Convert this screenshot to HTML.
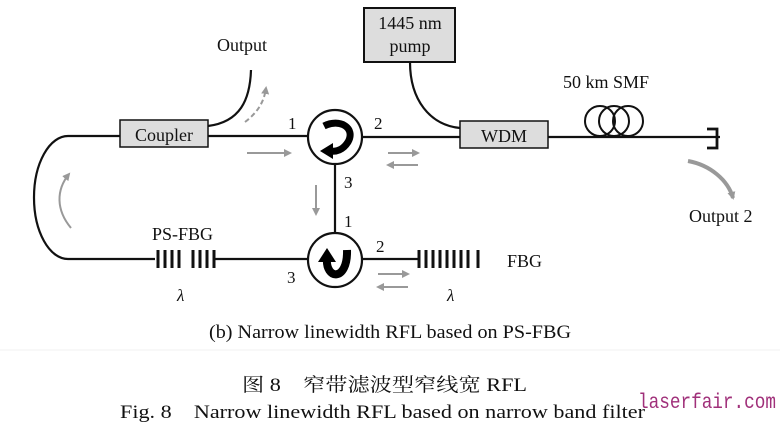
<!DOCTYPE html>
<html><head><meta charset="utf-8"><style>
body{margin:0;background:#fff;width:780px;height:433px;overflow:hidden}
svg{display:block}
text{font-family:"Liberation Serif","Noto Serif CJK SC",serif;fill:#111}
</style></head><body>
<svg width="780" height="433" viewBox="0 0 780 433">
<defs>
<marker id="ga" markerWidth="8" markerHeight="8" refX="6" refY="4" orient="auto" markerUnits="userSpaceOnUse"><path d="M0,0 L8,4 L0,8 Z" fill="#999"/></marker>
</defs>
<g stroke="#111" stroke-width="2.2" fill="none">
<path d="M120,136 L68,136 A34,61.5 0 0 0 68,259 L155,259"/>
<line x1="208" y1="136" x2="308" y2="136"/>
<path d="M208,126 C240,122 250,100 251,70"/>
<line x1="362" y1="137" x2="460" y2="137"/>
<line x1="548" y1="137" x2="720" y2="137"/>
<path d="M707,129 L717,129 L717,148 L707,148" stroke-width="2.8"/>
<path d="M410,62 C410,100 430,125 460,128"/>
<line x1="335" y1="164" x2="335" y2="233"/>
<line x1="215" y1="259" x2="308" y2="259"/>
<line x1="362" y1="259" x2="418" y2="259"/>
<circle cx="335" cy="137" r="27"/>
<circle cx="335" cy="260" r="27"/>
<circle cx="600" cy="121" r="15" stroke-width="2"/>
<circle cx="614" cy="121" r="15" stroke-width="2"/>
<circle cx="628" cy="121" r="15" stroke-width="2"/>
</g>
<path d="M324,126 C340,118 356,128 348,142 C343,150 336,152 330,151" stroke="#000" stroke-width="7" fill="none"/>
<path d="M320,151 L333,143 L333,159 Z" fill="#000"/>
<path d="M327,258 C325,280 348,282 347,250" stroke="#000" stroke-width="8" fill="none"/>
<path d="M318,262 L327,248 L336,262 Z" fill="#000"/>
<rect x="120" y="120" width="88" height="27" fill="#ddd" stroke="#111" stroke-width="1.5"/>
<text x="164" y="141" font-size="18" text-anchor="middle">Coupler</text>
<rect x="460" y="121" width="88" height="27" fill="#ddd" stroke="#111" stroke-width="1.5"/>
<text x="504" y="142" font-size="18" text-anchor="middle">WDM</text>
<rect x="364" y="8" width="91" height="54" fill="#ddd" stroke="#111" stroke-width="2"/>
<text x="410" y="29" font-size="18" text-anchor="middle">1445 nm</text>
<text x="410" y="52" font-size="18" text-anchor="middle">pump</text>
<g stroke="#111" stroke-width="3">
<line x1="158" y1="250" x2="158" y2="268"/><line x1="165" y1="250" x2="165" y2="268"/><line x1="172" y1="250" x2="172" y2="268"/><line x1="179" y1="250" x2="179" y2="268"/>
<line x1="193" y1="250" x2="193" y2="268"/><line x1="200" y1="250" x2="200" y2="268"/><line x1="207" y1="250" x2="207" y2="268"/><line x1="214" y1="250" x2="214" y2="268"/>
<line x1="419" y1="250" x2="419" y2="268"/><line x1="426" y1="250" x2="426" y2="268"/><line x1="433" y1="250" x2="433" y2="268"/><line x1="440" y1="250" x2="440" y2="268"/><line x1="447" y1="250" x2="447" y2="268"/><line x1="454" y1="250" x2="454" y2="268"/><line x1="461" y1="250" x2="461" y2="268"/><line x1="468" y1="250" x2="468" y2="268"/><line x1="478" y1="250" x2="478" y2="268"/>
</g>
<g stroke="#999" stroke-width="2" fill="none" marker-end="url(#ga)">
<line x1="247" y1="153" x2="290" y2="153"/>
<line x1="316" y1="185" x2="316" y2="214"/>
<path d="M71,228 C56,210 56,190 69,174"/>
<path d="M245,122 C258,112 264,102 266,88" stroke-dasharray="5,3"/>
<line x1="388" y1="153" x2="418" y2="153"/>
<line x1="418" y1="165" x2="388" y2="165"/>
<line x1="378" y1="274" x2="408" y2="274"/>
<line x1="408" y1="287" x2="378" y2="287"/>
<path d="M688,161 C710,165 728,180 733,198" stroke-width="4"/>
</g>
<text x="217" y="51" font-size="18">Output</text>
<text x="563" y="88" font-size="18">50 km SMF</text>
<text x="689" y="222" font-size="18">Output 2</text>
<text x="152" y="240" font-size="18">PS-FBG</text>
<text x="507" y="267" font-size="18">FBG</text>
<text x="177" y="301" font-size="17" font-style="italic">λ</text>
<text x="447" y="301" font-size="17" font-style="italic">λ</text>
<text x="288" y="129" font-size="17">1</text>
<text x="374" y="129" font-size="17">2</text>
<text x="344" y="188" font-size="17">3</text>
<text x="344" y="227" font-size="17">1</text>
<text x="376" y="252" font-size="17">2</text>
<text x="287" y="283" font-size="17">3</text>
<text x="390" y="338" font-size="19" text-anchor="middle" textLength="362" lengthAdjust="spacingAndGlyphs">(b) Narrow linewidth RFL based on PS-FBG</text>
<line x1="0" y1="350" x2="780" y2="350" stroke="#f0f0f0" stroke-width="1"/>
<text x="242" y="391" font-size="19" textLength="285" lengthAdjust="spacingAndGlyphs">图 8　窄带滤波型窄线宽 RFL</text>
<text x="120" y="418" font-size="19" textLength="525" lengthAdjust="spacingAndGlyphs">Fig. 8　Narrow linewidth RFL based on narrow band filter</text>
<text x="638" y="408" font-size="21" style="font-family:'Liberation Mono',monospace;fill:#a0307a" textLength="138" lengthAdjust="spacingAndGlyphs">laserfair.com</text>
</svg>
</body></html>
